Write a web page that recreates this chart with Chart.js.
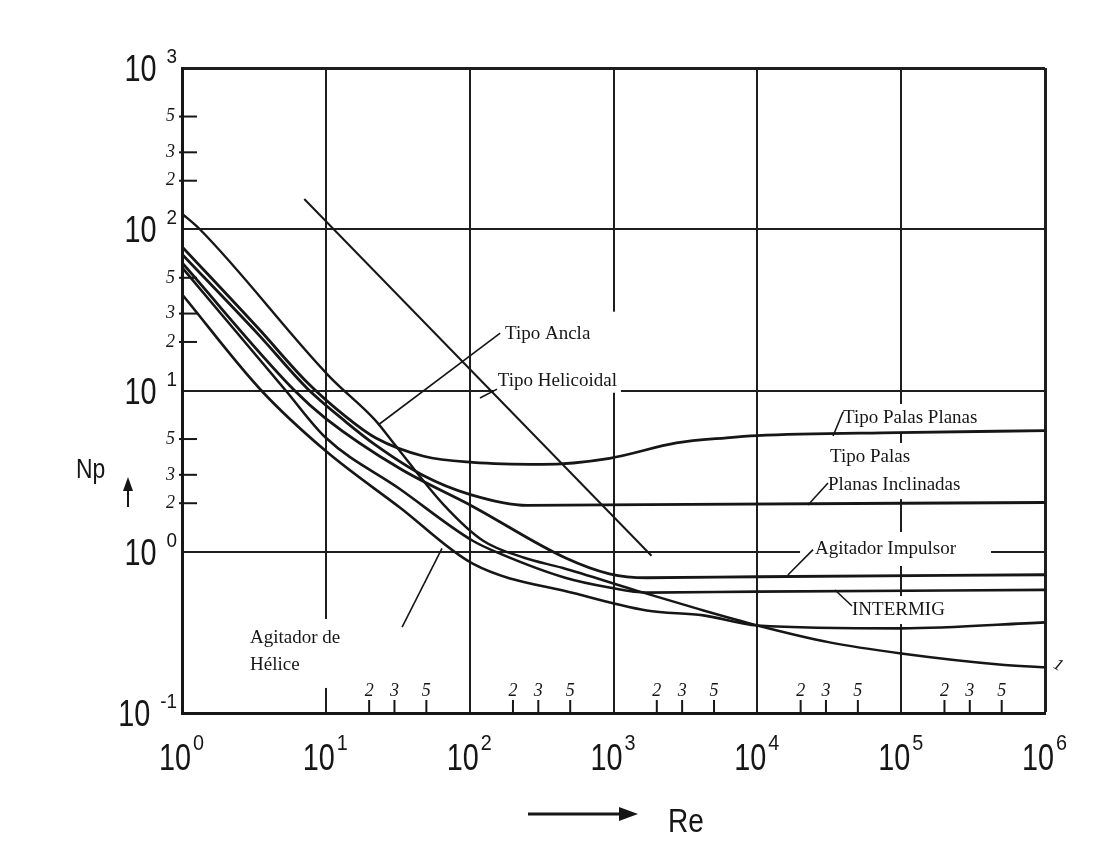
<!DOCTYPE html>
<html>
<head>
<meta charset="utf-8">
<title>Np vs Re</title>
<script src="https://cdn.jsdelivr.net/npm/chart.js@4.4.1/dist/chart.umd.min.js"></script>
<style>
  html, body { margin: 0; padding: 0; background: #fff; }
  #wrap { width: 1117px; height: 844px; }
</style>
</head>
<body>
<div id="wrap"><canvas id="chart" width="1117" height="844"></canvas></div>
<script>
// axis ticks
const reDecades = [1, 10, 100, 1e3, 1e4, 1e5, 1e6];
const npDecades = [0.1, 1, 10, 100, 1000];
const reMinor = [20, 30, 50, 200, 300, 500, 2e3, 3e3, 5e3, 2e4, 3e4, 5e4, 2e5, 3e5, 5e5];
const npMinor = [2, 3, 5, 20, 30, 50, 200, 300, 500];

// curves (Re, Np)
const reAncla = [1, 1.33, 10.6, 22.1, 28.8, 65.8, 124, 239, 439, 1445, 3770, 1e4, 31800, 1e5, 480000, 1e6];
const npAncla = [125, 100, 12.2, 6.53, 4.87, 1.96, 1.17, 0.918, 0.796, 0.574, 0.445, 0.349, 0.274, 0.234, 0.200, 0.192];

const reHelicoidal = [7.08, 1837];
const npHelicoidal = [154, 0.944];

const rePalas = [1, 3.39, 7.43, 13.9, 22.1, 48, 105, 316, 940, 2740, 6100, 1e4, 95000, 1e6];
const npPalas = [78, 24.3, 11.2, 6.83, 5.09, 3.91, 3.58, 3.48, 3.80, 4.73, 5.09, 5.25, 5.48, 5.64];

const reInclinadas = [1, 3.39, 7.43, 13.9, 22.1, 48, 100, 251, 1700, 1e6];
const npInclinadas = [70, 22.3, 10.3, 6.35, 4.6, 2.96, 2.27, 1.94, 1.96, 2.02];

const reImpulsor = [1, 6.06, 10, 32.7, 105, 461, 936, 1700, 1e4, 1e6];
const npImpulsor = [62, 10, 6.7, 3.28, 1.91, 0.918, 0.73, 0.69, 0.70, 0.72];

const reIntermig = [1, 5.26, 10, 32.7, 105, 164, 461, 936, 1700, 1e4, 1e6];
const npIntermig = [58, 10, 5.09, 2.45, 1.17, 0.97, 0.69, 0.60, 0.558, 0.566, 0.58];

const reHelice = [1, 3.56, 10, 32.7, 105, 545, 1700, 4220, 1e4, 1e5, 1e6];
const npHelice = [39.5, 10, 4.21, 1.88, 0.843, 0.55, 0.432, 0.403, 0.349, 0.335, 0.365];

// labels and their leader lines, anchored in (Re, Np)
const notes = [
  { text: 'Tipo Ancla', re: 176, np: 22.4, from: [163, 22.7], to: [23.1, 6.11] },
  { text: 'Tipo Helicoidal', re: 157, np: 11.5, from: [155, 10.2], to: [118, 8.98], pad: [4, 60, 4, 3] },
  { text: 'Tipo Palas Planas', re: 39400, np: 6.75, from: [39400, 7.36], to: [33600, 5.22] },
  { text: 'Tipo Palas', re: 32000, np: 3.87 },
  { text: 'Planas Inclinadas', re: 31000, np: 2.59, from: [31000, 2.67], to: [22500, 1.95] },
  { text: 'Agitador Impulsor', re: 25200, np: 1.04, from: [24400, 1.03], to: [16300, 0.718], pad: [15, 8, 35, 8] },
  { text: 'INTERMIG', re: 45500, np: 0.435, from: [45500, 0.461], to: [34700, 0.579] },
  { text: 'Agitador de', re: 2.97, np: 0.292, from: [33.9, 0.341], to: [64.2, 1.05], pad: [3, 10, 3, 41] },
  { text: 'Hélice', re: 2.97, np: 0.199 }
];

const ink = '#161616';
const serif = '"Liberation Serif", "Times New Roman", serif';
const sans = '"Liberation Sans", Arial, sans-serif';

function pts(xs, ys) {
  return xs.map((x, i) => ({ x: x, y: ys[i] }));
}

function sansText(ctx, txt, x, y, size, sx, align) {
  ctx.save();
  ctx.font = size + 'px ' + sans;
  ctx.translate(x, y);
  ctx.scale(sx, 1);
  ctx.textAlign = align;
  ctx.textBaseline = 'alphabetic';
  ctx.fillText(txt, 0, 0);
  const w = ctx.measureText(txt).width * sx;
  ctx.restore();
  return w;
}

function noteBox(ctx, n, xs, ys) {
  ctx.font = '19px ' + serif;
  const w = ctx.measureText(n.text).width;
  const p = n.pad || [4, 5, 4, 5];
  const x = xs.getPixelForValue(n.re), y = ys.getPixelForValue(n.np);
  return { x: x, y: y, l: x - p[0], t: y - 9 - p[1], w: w + p[0] + p[2], h: 18 + p[1] + p[3] };
}

const scanPlugin = {
  id: 'scan',
  beforeDatasetsDraw(chart) {
    const ctx = chart.ctx, xs = chart.scales.x, ys = chart.scales.y;
    ctx.save();
    ctx.fillStyle = '#fff';
    notes.forEach(n => {
      const b = noteBox(ctx, n, xs, ys);
      ctx.fillRect(b.l, b.t, b.w, b.h);
    });
    ctx.restore();
  },
  afterDatasetsDraw(chart) {
    const ctx = chart.ctx, xs = chart.scales.x, ys = chart.scales.y;
    const a = chart.chartArea;
    ctx.save();
    ctx.fillStyle = ink;
    ctx.strokeStyle = ink;

    // labels and leaders
    notes.forEach(n => {
      const b = noteBox(ctx, n, xs, ys);
      ctx.font = '19px ' + serif;
      ctx.textAlign = 'left';
      ctx.textBaseline = 'middle';
      ctx.fillText(n.text, b.x, b.y);
      if (n.from) {
        ctx.lineWidth = 1.6;
        ctx.beginPath();
        ctx.moveTo(xs.getPixelForValue(n.from[0]), ys.getPixelForValue(n.from[1]));
        ctx.lineTo(xs.getPixelForValue(n.to[0]), ys.getPixelForValue(n.to[1]));
        ctx.stroke();
      }
    });

    // small mark at the end of the lowest curve
    const last = reAncla.length - 1;
    ctx.save();
    ctx.translate(xs.getPixelForValue(reAncla[last]) + 13, ys.getPixelForValue(npAncla[last]) - 2);
    ctx.rotate(0.5);
    ctx.font = 'italic 17px ' + serif;
    ctx.textAlign = 'center';
    ctx.textBaseline = 'middle';
    ctx.fillText('1', 0, 0);
    ctx.restore();

    // minor ticks, bottom
    ctx.lineWidth = 2;
    ctx.font = 'italic 18px ' + serif;
    ctx.textAlign = 'center';
    ctx.textBaseline = 'alphabetic';
    reMinor.forEach(v => {
      const x = xs.getPixelForValue(v);
      ctx.beginPath();
      ctx.moveTo(x, a.bottom - 1);
      ctx.lineTo(x, a.bottom - 13);
      ctx.stroke();
      ctx.fillText(String(v).charAt(0), x, a.bottom - 17);
    });

    // minor ticks, left
    ctx.textAlign = 'right';
    ctx.textBaseline = 'middle';
    npMinor.forEach(v => {
      const y = ys.getPixelForValue(v);
      ctx.beginPath();
      ctx.moveTo(a.left - 3, y);
      ctx.lineTo(a.left + 15, y);
      ctx.stroke();
      ctx.fillText(String(v).charAt(0), a.left - 7, y);
    });

    // decade labels, y
    npDecades.forEach(v => {
      const y = ys.getPixelForValue(v);
      const e = String(Math.round(Math.log10(v))).replace('-', '\u2212').replace('\u2212', '-');
      const wSup = sansText(ctx, e, a.left - 5, y - 5, 21, 0.9, 'right');
      sansText(ctx, '10', a.left - 5 - wSup - 10, y + 13, 36, 0.8, 'right');
    });

    // decade labels, x
    reDecades.forEach(v => {
      const x = xs.getPixelForValue(v);
      const e = String(Math.round(Math.log10(v)));
      const w10 = sansText(ctx, '10', x - 7, a.bottom + 57, 36, 0.8, 'center');
      sansText(ctx, e, x - 7 + w10 / 2 + 2, a.bottom + 37, 22, 0.9, 'left');
    });

    // axis names with arrows
    sansText(ctx, 'Np', 76, 478, 27, 0.85, 'left');
    ctx.lineWidth = 2;
    ctx.beginPath();
    ctx.moveTo(128, 507);
    ctx.lineTo(128, 488);
    ctx.stroke();
    ctx.beginPath();
    ctx.moveTo(128, 477);
    ctx.lineTo(123, 491);
    ctx.lineTo(133, 491);
    ctx.closePath();
    ctx.fill();

    sansText(ctx, 'Re', 668, 832, 33, 0.85, 'left');
    ctx.lineWidth = 3;
    ctx.beginPath();
    ctx.moveTo(528, 814);
    ctx.lineTo(622, 814);
    ctx.stroke();
    ctx.beginPath();
    ctx.moveTo(638, 814);
    ctx.lineTo(619, 807);
    ctx.lineTo(619, 821);
    ctx.closePath();
    ctx.fill();

    ctx.restore();
  }
};

function edgeWidth(ends) {
  return c => (c.tick && ends.indexOf(c.tick.value) >= 0) ? 3 : 2;
}

function lineSet(label, xs, ys, extra) {
  return Object.assign({
    label: label,
    data: pts(xs, ys),
    borderColor: ink,
    borderWidth: 2.4,
    pointRadius: 0,
    fill: false,
    cubicInterpolationMode: 'monotone'
  }, extra || {});
}

new Chart(document.getElementById('chart'), {
  type: 'line',
  data: {
    datasets: [
      lineSet('Tipo Ancla', reAncla, npAncla),
      lineSet('Tipo Helicoidal', reHelicoidal, npHelicoidal, { cubicInterpolationMode: 'default', tension: 0, borderWidth: 2 }),
      lineSet('Tipo Palas Planas', rePalas, npPalas, { borderWidth: 2.8 }),
      lineSet('Tipo Palas Planas Inclinadas', reInclinadas, npInclinadas, { borderWidth: 2.8 }),
      lineSet('Agitador Impulsor', reImpulsor, npImpulsor, { borderWidth: 2.8 }),
      lineSet('INTERMIG', reIntermig, npIntermig, { borderWidth: 2.6 }),
      lineSet('Agitador de Hélice', reHelice, npHelice, { borderWidth: 2.6 })
    ]
  },
  options: {
    responsive: false,
    animation: false,
    events: [],
    layout: { padding: { left: 182, right: 72, top: 68, bottom: 131 } },
    plugins: { legend: { display: false }, tooltip: { enabled: false } },
    scales: {
      x: {
        type: 'logarithmic',
        min: 1,
        max: 1e6,
        afterBuildTicks: s => { s.ticks = reDecades.map(v => ({ value: v })); },
        ticks: { display: false },
        grid: { color: '#1e1e1e', lineWidth: edgeWidth([1e6]), drawTicks: false },
        border: { display: true, color: ink, width: 3 }
      },
      y: {
        type: 'logarithmic',
        min: 0.1,
        max: 1000,
        afterBuildTicks: s => { s.ticks = npDecades.map(v => ({ value: v })); },
        ticks: { display: false },
        grid: { color: '#1e1e1e', lineWidth: edgeWidth([1000]), drawTicks: false },
        border: { display: true, color: ink, width: 3 }
      }
    }
  },
  plugins: [scanPlugin]
});
</script>
</body>
</html>
